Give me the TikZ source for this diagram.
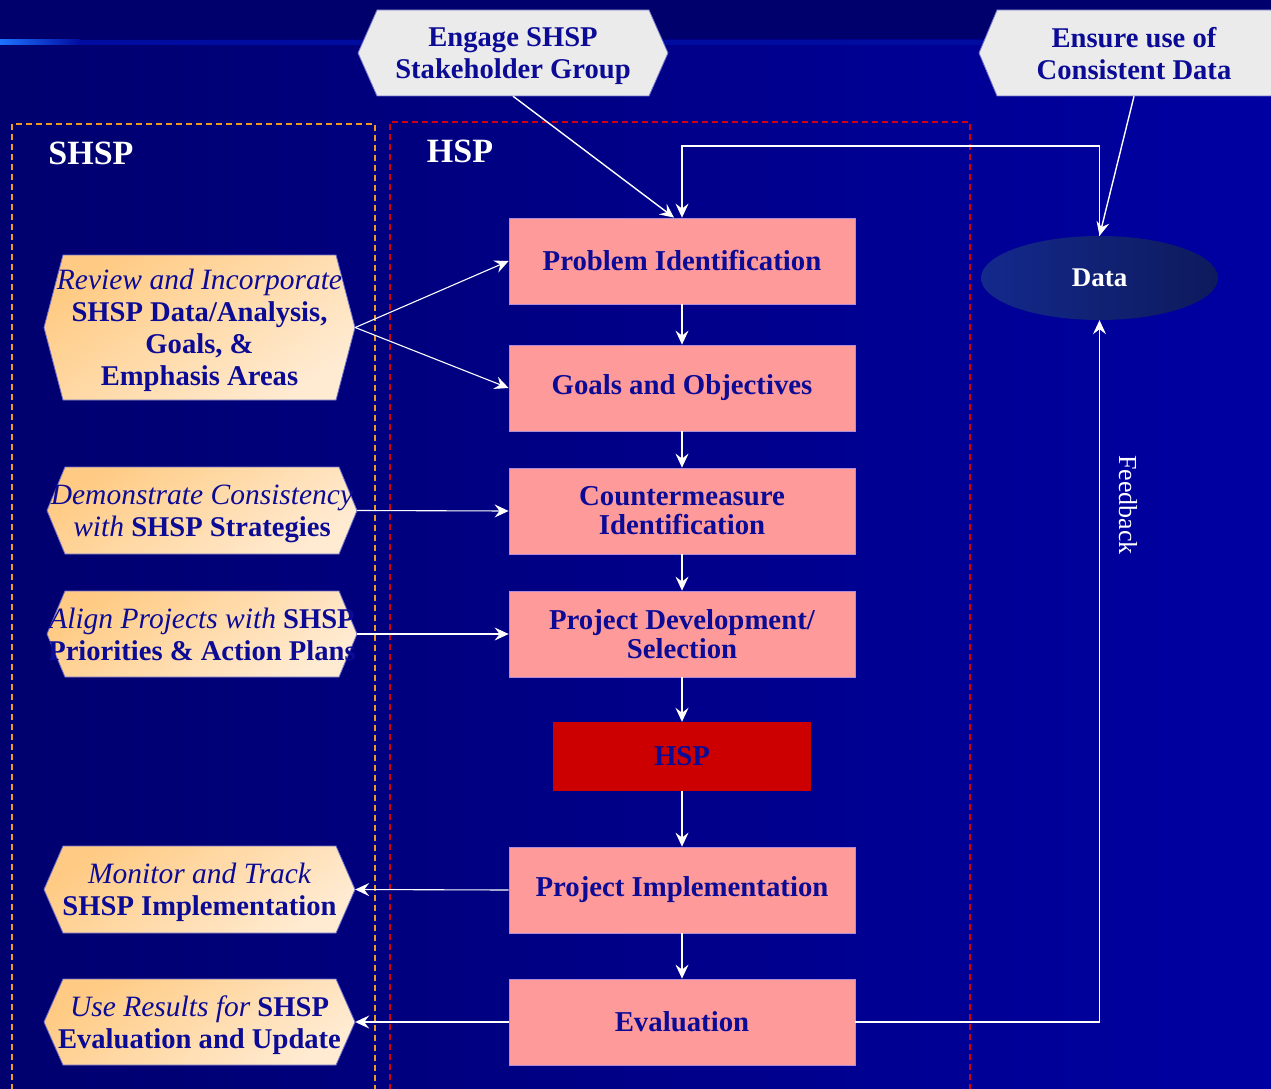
\documentclass[tikz,border=0pt]{standalone}
\usepackage{fontspec}
\setmainfont{Liberation Serif}
\usetikzlibrary{arrows.meta,calc}
\definecolor{bgtop}{HTML}{00006C}
\definecolor{bgl}{HTML}{00006E}
\definecolor{bgr}{HTML}{0000A2}
\definecolor{lineblue}{HTML}{1E72FF}
\definecolor{linedark}{HTML}{000CA0}
\definecolor{txtblue}{HTML}{0B0B96}
\definecolor{pinkbox}{HTML}{FF9A9A}
\definecolor{redbox}{HTML}{CC0000}
\definecolor{hexA}{HTML}{FFCB84}
\definecolor{hexB}{HTML}{FFEBD2}
\definecolor{greyhex}{HTML}{EBEBEB}
\definecolor{hexline}{HTML}{7070C8}
\definecolor{boxline}{HTML}{B08CD8}
\definecolor{orangedash}{HTML}{F09A20}
\definecolor{reddash}{HTML}{D00010}
\definecolor{ellA}{HTML}{13298C}
\definecolor{ellB}{HTML}{0E1A5C}
\newcommand\itp[1]{{\fontsize{29.5}{32}\selectfont\mdseries\itshape #1}}
\newcommand\hexnode[8]{% style, name, x1,y1,x2,y2, indent, text
  \path[#1] (#3+#7,#4) -- (#5-#7,#4) -- (#5,{(#4+#6)/2}) -- (#5-#7,#6) -- (#3+#7,#6) -- (#3,{(#4+#6)/2}) -- cycle;
  \node[inner sep=0pt, minimum width={(#5-#3)*1pt}, minimum height={(#6-#4)*1pt}] (#2) at ({(#3+#5)/2},{(#4+#6)/2}) {};
  \node[hextext] (#2-t) at ([yshift=-5pt]#2.center) {#8\strut};
}
\begin{document}
\begin{tikzpicture}[x=1pt,y=-1pt,
  hexorange/.style={draw=hexline, line width=0.8pt, top color=hexA, bottom color=hexB, shading angle=35},
  hexgrey/.style={draw=hexline, line width=0.8pt, fill=greyhex},
  hextext/.style={inner sep=0pt, align=center, text=txtblue, font=\fontsize{28.6}{32}\selectfont\bfseries},
  pbox/.style={draw=boxline, line width=0.8pt, fill=pinkbox, minimum width=346pt, minimum height=86pt, inner sep=0pt, align=center, text=txtblue, font=\fontsize{28.8}{29}\selectfont\bfseries},
  hspbox/.style={fill=redbox, minimum width=258pt, minimum height=69pt, inner sep=0pt, text=txtblue, font=\fontsize{28.8}{29}\selectfont\bfseries},
  heading/.style={text=white, font=\fontsize{34}{36}\selectfont\bfseries, inner sep=0pt},
  arr/.style={draw=white, line width=1.4pt, -{Stealth[length=14pt,width=13pt,inset=5pt]}},
  arrthin/.style={draw=white, line width=1.1pt, -{Stealth[length=14pt,width=13pt,inset=5pt]}},
  dashbox/.style={line width=1.4pt, dash pattern=on 6pt off 4pt}
]
\useasboundingbox (0,0) rectangle (1271,1089);
\clip (0,0) rectangle (1271,1089);
% background
\fill[bgtop] (0,0) rectangle (1271,40);
\shade[left color=bgl, right color=bgr] (0,40) rectangle (1271,1089);
\shade[left color=lineblue, right color=linedark] (0,40) rectangle (80,45);
\fill[linedark] (80,40) rectangle (1271,45);
% dashed frames
\draw[dashbox, draw=orangedash] (12,1100) -- (12,124) -- (375,124) -- (375,1100);
\draw[dashbox, draw=reddash] (390,1100) -- (390,122) -- (970,122) -- (970,1100);
\node[heading] (shsplabel) at (91,153) {SHSP};
\node[heading] (hsplabel) at (460,151) {HSP};
% top hexagons
\hexnode{hexgrey}{engage}{358}{10}{668}{96}{19}{Engage SHSP\\Stakeholder Group}
\hexnode{hexgrey}{ensure}{979}{10}{1289}{96}{18}{Ensure use of\\Consistent Data}
% left hexagons
\hexnode{hexorange}{review}{44}{255}{355}{400}{19}{\itp{Review and Incorporate}\\SHSP Data/Analysis,\\Goals, \&\\Emphasis Areas}
\hexnode{hexorange}{demo}{47}{467}{357}{554}{18}{\itp{Demonstrate Consistency}\\\itp{with} SHSP Strategies}
\hexnode{hexorange}{align}{47}{591}{357}{677}{18}{\itp{Align Projects with} SHSP\\Priorities \& Action Plans}
\hexnode{hexorange}{monitor}{44}{846}{355}{933}{19}{\itp{Monitor and Track}\\SHSP Implementation}
\hexnode{hexorange}{useres}{44}{979}{355}{1065}{19}{\itp{Use Results for} SHSP\\Evaluation and Update}
% process boxes
\node[pbox] (prob) at (682,261) {Problem Identification};
\node[pbox] (goals) at (682,388) {Goals and Objectives};
\node[pbox] (counter) at (682,511) {Countermeasure\\Identification};
\node[pbox] (projdev) at (682,634) {Project Development/\\Selection};
\node[hspbox] (hsp) at (682,756.5) {HSP};
\node[pbox] (impl) at (682,890) {Project Implementation};
\node[pbox] (eval) at (682,1022) {Evaluation};
% data ellipse
\shade[left color=ellA, right color=ellB] (1099.5,278) ellipse [x radius=118.5pt, y radius=42pt];
\node[text=white, font=\fontsize{27}{29}\selectfont\bfseries, minimum width=237pt, minimum height=84pt, inner sep=0pt] (data) at (1099.5,278) {Data};
% connectors
\draw[arr] (engage.south) -- ([xshift=-8pt]prob.north);
\draw[arr] (ensure.south) -- (data.north);
\coordinate (loopc) at (1099.5,146);
\draw[arr] (data.north) -- (loopc) -| (prob.north);
\draw[arr] (eval.east) -| (data.south);
\node[text=white, font=\fontsize{26}{28}\selectfont, rotate=-90, inner sep=0pt] (fb) at (1128,505) {Feedback};
\draw[arrthin] (review.east) -- (prob.west);
\draw[arrthin] (review.east) -- (goals.west);
\draw[arrthin] (demo.east) -- (counter.west);
\draw[arrthin] (align.east) -- (projdev.west);
\draw[arrthin] (impl.west) -- (monitor.east);
\draw[arrthin] (eval.west) -- (useres.east);
\draw[arr] (prob) -- (goals);
\draw[arr] (goals) -- (counter);
\draw[arr] (counter) -- (projdev);
\draw[arr] (projdev) -- (hsp);
\draw[arr] (hsp) -- (impl);
\draw[arr] (impl) -- (eval);
\end{tikzpicture}
\end{document}
